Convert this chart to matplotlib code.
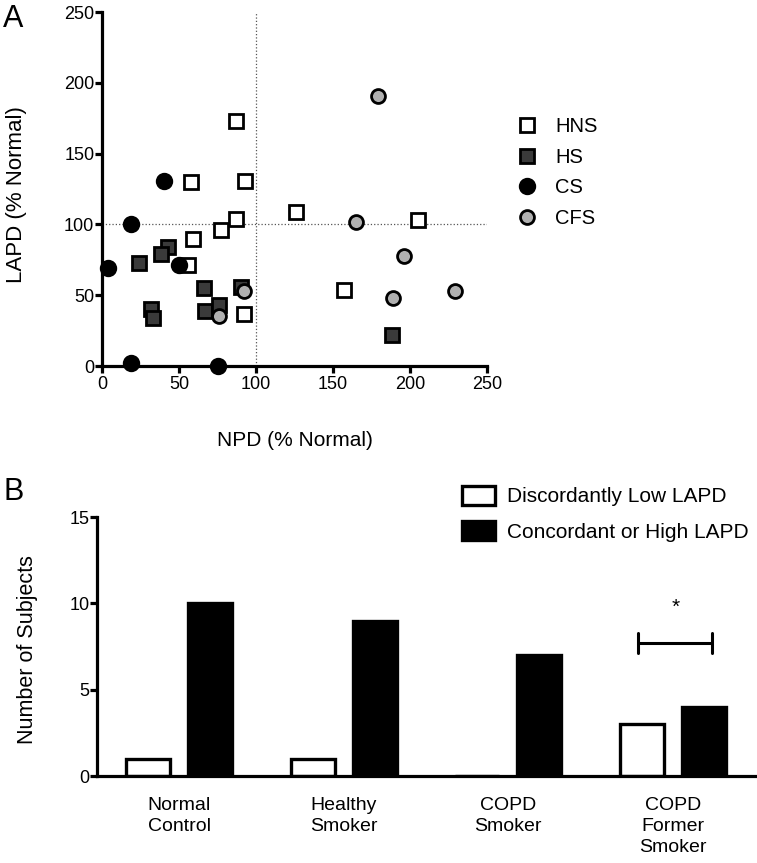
import matplotlib
matplotlib.use("Agg")
import matplotlib.pyplot as plt
from matplotlib.patches import Patch
import numpy as np

plt.rcParams['font.family'] = ['Liberation Sans', 'DejaVu Sans']

# panel A data (NPD, LAPD in % normal)
hns_x = [58, 93, 87, 126, 205, 87, 77, 59, 56, 157, 92]
hns_y = [130, 131, 173, 109, 103, 104, 96, 90, 71, 54, 37]
hs_x = [43, 38, 24, 66, 90, 32, 33, 67, 76, 188]
hs_y = [84, 79, 73, 55, 56, 40, 34, 39, 43, 22]
cs_x = [40, 19, 4, 50, 19, 75]
cs_y = [131, 100, 69, 71, 2, 0]
cfs_x = [179, 165, 196, 92, 189, 76, 229]
cfs_y = [191, 102, 78, 53, 48, 35, 53]

# panel B data
groups = ['Normal\nControl', 'Healthy\nSmoker', 'COPD\nSmoker', 'COPD\nFormer\nSmoker']
low_lapd = [1, 1, 0, 3]
high_lapd = [10, 9, 7, 4]

W, H = 757, 863
fig = plt.figure(figsize=(W / 100, H / 100), dpi=100)

def box(l, t, r, b):
    return [l / W, 1 - b / H, (r - l) / W, (b - t) / H]

lw = 2.3

# ---------- panel A ----------
ax = fig.add_axes(box(102, 12, 487, 366))
ax.set_xlim(0, 250)
ax.set_ylim(0, 250)
ax.plot([100, 100], [0, 250], ':', color='#555555', lw=0.9, zorder=1)
ax.plot([0, 250], [100, 100], ':', color='#555555', lw=0.9, zorder=1)

ax.plot(hns_x, hns_y, 's', ms=9.5, mfc='white', mec='black', mew=2, ls='none', label='HNS', clip_on=False, zorder=3)
ax.plot(hs_x, hs_y, 's', ms=9.5, mfc='#3a3a3a', mec='black', mew=2, ls='none', label='HS', clip_on=False, zorder=3)
ax.plot(cs_x, cs_y, 'o', ms=11, mfc='black', mec='black', mew=1.5, ls='none', label='CS', clip_on=False, zorder=4)
ax.plot(cfs_x, cfs_y, 'o', ms=10, mfc='#b0b0b0', mec='black', mew=2, ls='none', label='CFS', clip_on=False, zorder=5)

for s in ['top', 'right']:
    ax.spines[s].set_visible(False)
for s in ['left', 'bottom']:
    ax.spines[s].set_linewidth(lw)
ax.set_xticks(np.arange(0, 251, 50))
ax.set_yticks(np.arange(0, 251, 50))
ax.tick_params(width=lw, length=5, labelsize=13, direction='out')
ax.tick_params(axis='y', pad=0.5)
ax.tick_params(axis='x', pad=2)
ax.set_xlabel('NPD (% Normal)', fontsize=15)
ax.set_ylabel('LAPD (% Normal)', fontsize=16)
ax.xaxis.set_label_coords(0.5, -0.185)
ax.yaxis.set_label_coords(-0.195, 0.483)

ax.legend(loc='upper left', bbox_to_anchor=(516 / W, 1 - 117 / H), bbox_transform=fig.transFigure,
          frameon=False, fontsize=14.5, handletextpad=0.85, labelspacing=0.58,
          handlelength=1.1, borderaxespad=0, borderpad=0)

fig.text(3 / W, 1 - 4 / H, 'A', fontsize=22, va='top', ha='left')

# ---------- panel B ----------
bx = fig.add_axes(box(97, 517, 755, 776))
x = np.arange(len(groups))
bw = 0.268
off = 0.189
bx.bar(x - off, low_lapd, bw, color='white', edgecolor='black', linewidth=2.4, zorder=2)
bx.bar(x + off, high_lapd, bw, color='black', edgecolor='black', linewidth=2.4, zorder=2)
bx.set_xlim(-0.5, 3.5)
bx.set_ylim(0, 15)
bx.set_yticks([0, 5, 10, 15])
bx.set_xticks(x)
bx.set_xticklabels(groups)
for t in bx.get_xticklabels():
    t.set_linespacing(1.33)
bx.tick_params(axis='x', length=0, pad=15, labelsize=14)
bx.tick_params(axis='y', width=lw, length=5, labelsize=13, pad=0.5)
for s in ['top', 'right']:
    bx.spines[s].set_visible(False)
for s in ['left', 'bottom']:
    bx.spines[s].set_linewidth(lw)
    bx.spines[s].set_zorder(3)
bx.set_ylabel('Number of Subjects', fontsize=15.5)
bx.yaxis.set_label_coords(-0.089, 0.49)

# significance bracket between the COPD former smoker bars
bx.plot([2.79, 3.24], [7.7, 7.7], color='black', lw=2.2, solid_capstyle='butt')
bx.plot([2.79, 2.79], [7.1, 8.3], color='black', lw=2.2, solid_capstyle='round')
bx.plot([3.24, 3.24], [7.1, 8.3], color='black', lw=2.2, solid_capstyle='round')
bx.text(3.02, 9.75, '*', ha='center', va='center', fontsize=15)

handles = [Patch(facecolor='white', edgecolor='black', linewidth=2.4, label='Discordantly Low LAPD'),
           Patch(facecolor='black', edgecolor='black', linewidth=2.4, label='Concordant or High LAPD')]
bx.legend(handles=handles, loc='upper left', bbox_to_anchor=(462 / W, 1 - 486 / H), bbox_transform=fig.transFigure,
          frameon=False, fontsize=15, handlelength=1.6, handleheight=1.0, handletextpad=0.55,
          labelspacing=0.72, borderaxespad=0, borderpad=0)

fig.text(3 / W, 1 - 477 / H, 'B', fontsize=22, va='top', ha='left')

fig.savefig('out.png', dpi=100)
